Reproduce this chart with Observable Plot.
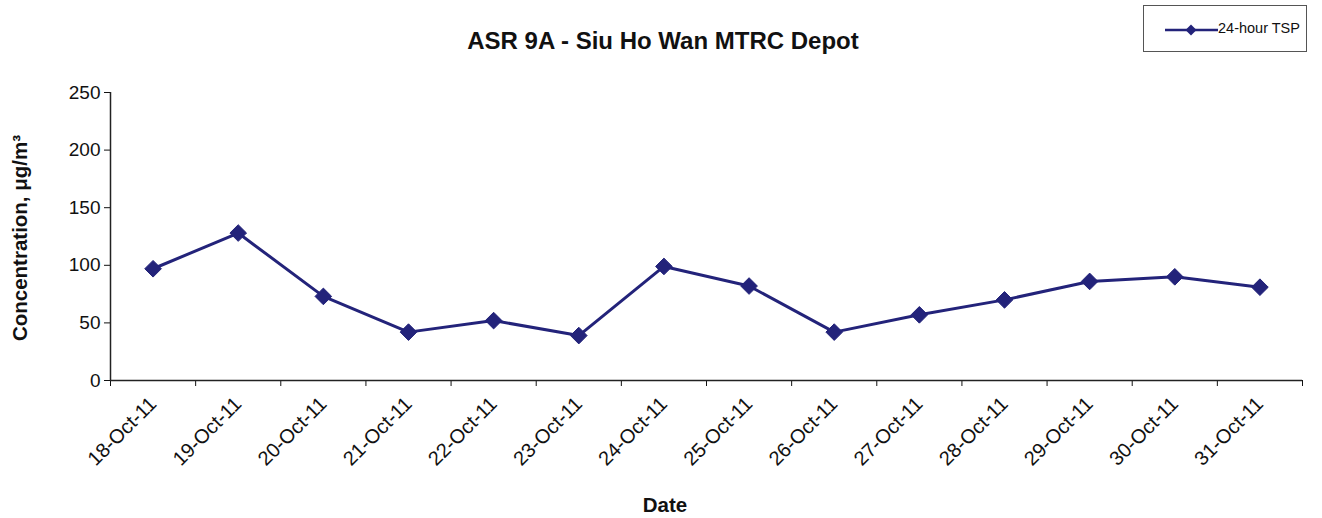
<!DOCTYPE html>
<html>
<head>
<meta charset="utf-8">
<script src="https://cdn.jsdelivr.net/npm/d3@7"></script>
<script src="https://cdn.jsdelivr.net/npm/@observablehq/plot@0.6"></script>
<style>
  body { margin: 0; background: #fff; }
  #wrap { position: relative; width: 1322px; height: 518px; font-family: "Liberation Sans", Arial, sans-serif; }
  #title { position: absolute; left: 0; width: 1326px; top: 27px; text-align: center; font-weight: bold; font-size: 24px; color: #111; }
  #legend { position: absolute; left: 1143px; top: 5px; width: 164px; height: 47px; border: 1.5px solid #555; box-sizing: border-box; font-size: 14.5px; color: #111; }
  #legend svg { position: absolute; left: 20px; top: 15px; }
  #legend span { position: absolute; left: 74px; top: 14px; }
  #chart { position: absolute; left: 0; top: 0; }
</style>
</head>
<body>
<div id="wrap">
  <div id="chart"></div>
  <div id="title">ASR 9A - Siu Ho Wan MTRC Depot</div>
  <div id="legend">
    <svg width="56" height="18"><line x1="1" y1="9" x2="54" y2="9" stroke="#23237a" stroke-width="2.5"/><path d="M27,3.5L32.5,9L27,14.5L21.5,9Z" fill="#23237a"/></svg>
    <span>24-hour TSP</span>
  </div>
</div>
<script>
const dates = ["18-Oct-11","19-Oct-11","20-Oct-11","21-Oct-11","22-Oct-11","23-Oct-11","24-Oct-11",
               "25-Oct-11","26-Oct-11","27-Oct-11","28-Oct-11","29-Oct-11","30-Oct-11","31-Oct-11"];
const tsp = [97, 128, 73, 42, 52, 39, 99, 82, 42, 57, 70, 86, 90, 81];
const yTicks = [0, 50, 100, 150, 200, 250];
const seriesName = "24-hour TSP";

const data = dates.map((d, i) => ({i, date: d, value: tsp[i]}));
const color = "#23237a";

const chart = Plot.plot({
  width: 1322,
  height: 518,
  marginLeft: 110,
  marginRight: 20,
  marginTop: 92,
  marginBottom: 138,
  style: {fontFamily: "'Liberation Sans', Arial, sans-serif", background: "transparent", color: "#111"},
  x: {type: "linear", domain: [-0.5, dates.length - 0.5]},
  y: {domain: [0, 250]},
  marks: [
    Plot.axisY({ticks: yTicks, tickSize: 6, tickPadding: 4, fontSize: 19, label: null, tickFormat: d => String(d)}),
    Plot.axisX({ticks: d3.range(-0.5, dates.length, 1), tickSize: 6, tickFormat: () => "", label: null}),
    Plot.axisX({ticks: d3.range(dates.length), tickSize: 0, tickPadding: 20, tickRotate: -45, fontSize: 20,
                tickFormat: i => dates[i], label: null}),
    Plot.ruleX([-0.5], {stroke: "#222", strokeWidth: 1.5}),
    Plot.ruleY([0], {stroke: "#222", strokeWidth: 1.5}),
    Plot.line(data, {x: "i", y: "value", stroke: color, strokeWidth: 3}),
    Plot.dot(data, {x: "i", y: "value", symbol: "diamond2", r: 7.5, fill: color, stroke: color, strokeWidth: 1})
  ]
});
document.getElementById("chart").appendChild(chart);

const svg = d3.select(chart);
svg.append("text")
  .attr("transform", "translate(27,238) rotate(-90)")
  .attr("text-anchor", "middle")
  .attr("font-weight", "bold")
  .attr("font-size", 20.5)
  .attr("fill", "#111")
  .text("Concentration, μg/m³");
svg.append("text")
  .attr("x", 665)
  .attr("y", 512)
  .attr("text-anchor", "middle")
  .attr("font-weight", "bold")
  .attr("font-size", 20.5)
  .attr("fill", "#111")
  .text("Date");
</script>
</body>
</html>
